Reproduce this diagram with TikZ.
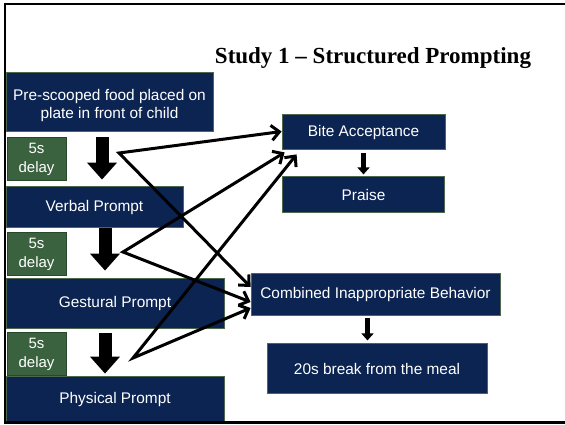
\documentclass[tikz,border=0pt]{standalone}
\usepackage{fontspec}
\setmainfont{Liberation Serif}
\setsansfont{Liberation Sans}
\usepackage{tikz}
\usetikzlibrary{arrows.meta,positioning}
\definecolor{navy}{RGB}{12,36,82}
\definecolor{boxedge}{RGB}{78,104,78}
\definecolor{delaygreen}{RGB}{58,98,62}
\definecolor{delayedge}{RGB}{40,72,44}

\begin{document}
\begin{tikzpicture}[
    x=1pt, y=-1pt,
    font=\sffamily,
    block/.style={
		rectangle,
		draw=boxedge,
		line width=0.8pt,
		fill=navy,
		text=white,
		align=center,
		inner sep=0pt,
		text height=12.5pt,
		font=\sffamily\fontsize{15.4}{18.5}\selectfont
	},
	delaybox/.style={
		rectangle,
		draw=delayedge,
		line width=0.8pt,
		fill=delaygreen,
		text=white,
		align=center,
		inner sep=0pt,
		minimum width=59pt,
		minimum height=43pt,
		font=\sffamily\fontsize{15}{19}\selectfont
	},
	bigarrow/.style={
		line width=13pt,
		-{Triangle[width=29pt,length=17pt]}
	},
	smallarrow/.style={
		line width=5pt,
		-{Triangle[width=12pt,length=7pt]}
	},
	outcome/.style={
		line width=3pt,
		{Straight Barb[length=8pt,width=15pt]}-{Straight Barb[length=8pt,width=15pt]}
	}
  ]
  \useasboundingbox (0,0) rectangle (565,424);

  \node [font=\rmfamily\bfseries\fontsize{23}{27}\selectfont, anchor=base] (title)
  at (373,63) {Study 1 – Structured Prompting};

    % the prompts on the left

  \node [block, text height=37.5pt, minimum width=207pt, minimum height=59pt] (food) at (109.5,101.5)
  {Pre-scooped food placed on\\plate in front of child};

  \node [block, minimum width=177pt, minimum height=41pt] (verbal) at (94.5,206.5)
  {Verbal Prompt};

  \node [block, minimum width=218pt, minimum height=50pt] (gestural) at (115,303)
  {Gestural Prompt};

  \node [block, minimum width=218pt, minimum height=46pt] (physical) at (115,399)
  {Physical Prompt};

  \node [delaybox, below=6pt of food.south west, anchor=north west, xshift=1pt] (delay1)
  {5s\\delay};
  \node [delaybox, below=5pt of verbal.south west, anchor=north west, xshift=1pt] (delay2)
  {5s\\delay};
  \node [delaybox, below=4pt of gestural.south west, anchor=north west, xshift=1pt] (delay3)
  {5s\\delay};

    % the consequences on the right

  \node [block, minimum width=163pt, minimum height=35pt] (bite) at (363.5,131.5)
  {Bite Acceptance};

  \node [block, minimum width=162pt, minimum height=36pt, below=27pt of bite] (praise)
  {Praise};

  \node [block, minimum width=249pt, minimum height=42pt] (combined) at (375.5,294)
  {Combined Inappropriate Behavior};

  \node [block, minimum width=220pt, minimum height=50pt, below=28pt of combined, xshift=1.5pt] (brk)
  {20s break from the meal};

  \coordinate (col1) at (102,0);
  \coordinate (col2) at (105,0);
  \coordinate (fork1) at (119,153);
  \coordinate (fork2) at (123,252);
  \coordinate (fork3) at (133,358);
  \coordinate (stop) at ([xshift=-8pt]combined.south);

 \draw [bigarrow, shorten <=6pt, shorten >=6pt] (food.south -| col1) -- (verbal.north -| col1);
 \draw [bigarrow, shorten <=1pt, shorten >=7pt] (verbal.south -| col2) -- (gestural.north -| col2);
 \draw [bigarrow, shorten <=5pt, shorten >=2pt] (gestural.south -| col2) -- (physical.north -| col2);

 \draw [smallarrow, shorten <=4pt, shorten >=2pt] (bite.south) -- (bite.south |- praise.north);
 \draw [smallarrow, shorten <=3pt, shorten >=3pt] (stop) -- (stop |- brk.north);

 \draw [outcome] (bite.west) -- (fork1) -- ([yshift=7pt]combined.west);
 \draw [outcome] ([xshift=3pt,yshift=-3pt]bite.south west) -- (fork2) -- ([yshift=-8pt]combined.west);
 \draw [outcome] ([xshift=15pt,yshift=-5pt]bite.south west) -- (fork3) -- ([yshift=-14pt]combined.west);

 \draw [line width=2.5pt] (565,4) -- (5,4) -- (5,422.5) -- (565,422.5);

\end{tikzpicture}
\end{document}
